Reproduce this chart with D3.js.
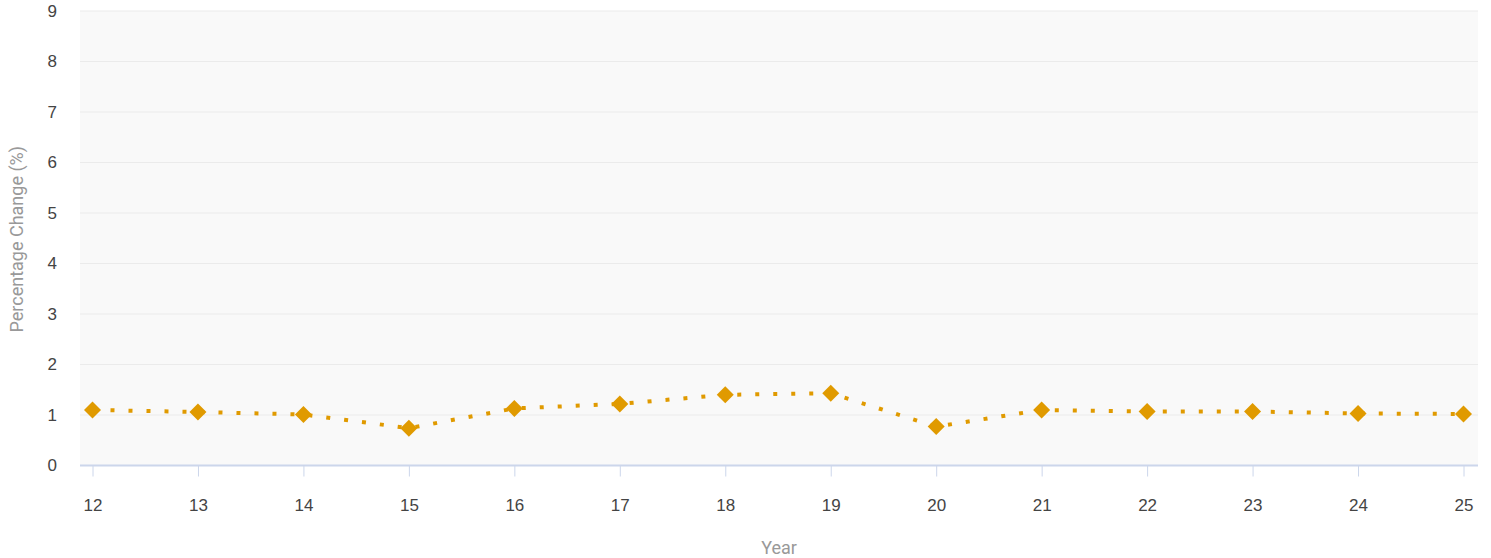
<!DOCTYPE html>
<html>
<head>
<meta charset="utf-8">
<script src="https://cdn.jsdelivr.net/npm/d3@7"></script>
<style>
  html, body { margin: 0; padding: 0; background: #fff; }
  svg { display: block; font-family: Roboto, "Noto Sans", sans-serif; }
</style>
</head>
<body>
<svg id="chart" width="1491" height="558"></svg>
<script>
// Year labels (two-digit) and percentage change per year
const years = ["12","13","14","15","16","17","18","19","20","21","22","23","24","25"];
const changes = [1.10, 1.06, 1.01, 0.74, 1.13, 1.22, 1.40, 1.43, 0.77, 1.10, 1.07, 1.07, 1.03, 1.02];
const yTicks = [0, 1, 2, 3, 4, 5, 6, 7, 8, 9];

const svg = d3.select("#chart");
const plot = { left: 80, right: 1478, top: 11, bottom: 465.5 };
const color = "#e09a00";

const x = d3.scalePoint().domain(years).range([92.5, 1463.5]);
const y = d3.scaleLinear().domain([0, 9]).range([plot.bottom, plot.top]);

// plot background
svg.append("rect")
  .attr("x", plot.left).attr("y", plot.top)
  .attr("width", plot.right - plot.left).attr("height", plot.bottom - plot.top)
  .attr("fill", "#f9f9f9");

// horizontal grid
svg.append("g").selectAll("line")
  .data(yTicks.filter(d => d > 0))
  .join("line")
  .attr("x1", plot.left).attr("x2", plot.right)
  .attr("y1", d => y(d)).attr("y2", d => y(d))
  .attr("stroke", "#ebebeb").attr("stroke-width", 1);

// y axis labels
const yAxis = svg.append("g")
  .attr("transform", `translate(${plot.left},0)`)
  .call(d3.axisLeft(y).tickValues(yTicks).tickSize(0).tickPadding(23));
yAxis.select(".domain").remove();
yAxis.selectAll("text").attr("fill", "#444").style("font-size", "17px");

// x axis
const xAxis = svg.append("g")
  .attr("transform", `translate(0,${plot.bottom})`)
  .call(d3.axisBottom(x).tickSize(11).tickPadding(22));
xAxis.select(".domain")
  .attr("d", `M${plot.left},0H${plot.right}`)
  .attr("stroke", "#ccd6eb").attr("stroke-width", 2);
xAxis.selectAll(".tick line").attr("stroke", "#ccd6eb").attr("stroke-width", 1);
xAxis.selectAll("text").attr("fill", "#444").style("font-size", "17px");

// axis titles
svg.append("text")
  .attr("transform", `translate(23,${(plot.top + plot.bottom) / 2 + 1}) rotate(-90)`)
  .attr("text-anchor", "middle")
  .attr("fill", "#999")
  .style("font-size", "18px")
  .text("Percentage Change (%)");

svg.append("text")
  .attr("x", (plot.left + plot.right) / 2).attr("y", 554)
  .attr("text-anchor", "middle")
  .attr("fill", "#999")
  .style("font-size", "18px")
  .text("Year");

// dotted series line
const line = d3.line().x((d, i) => x(years[i])).y(d => y(d));
svg.append("path")
  .datum(changes)
  .attr("d", line)
  .attr("fill", "none")
  .attr("stroke", color)
  .attr("stroke-width", 4)
  .attr("stroke-dasharray", "4,14");

// diamond markers
svg.append("g").selectAll("path")
  .data(changes)
  .join("path")
  .attr("transform", (d, i) => `translate(${x(years[i])},${y(d)})`)
  .attr("d", "M0,-8.5L8.5,0L0,8.5L-8.5,0Z")
  .attr("fill", color);
</script>
</body>
</html>
